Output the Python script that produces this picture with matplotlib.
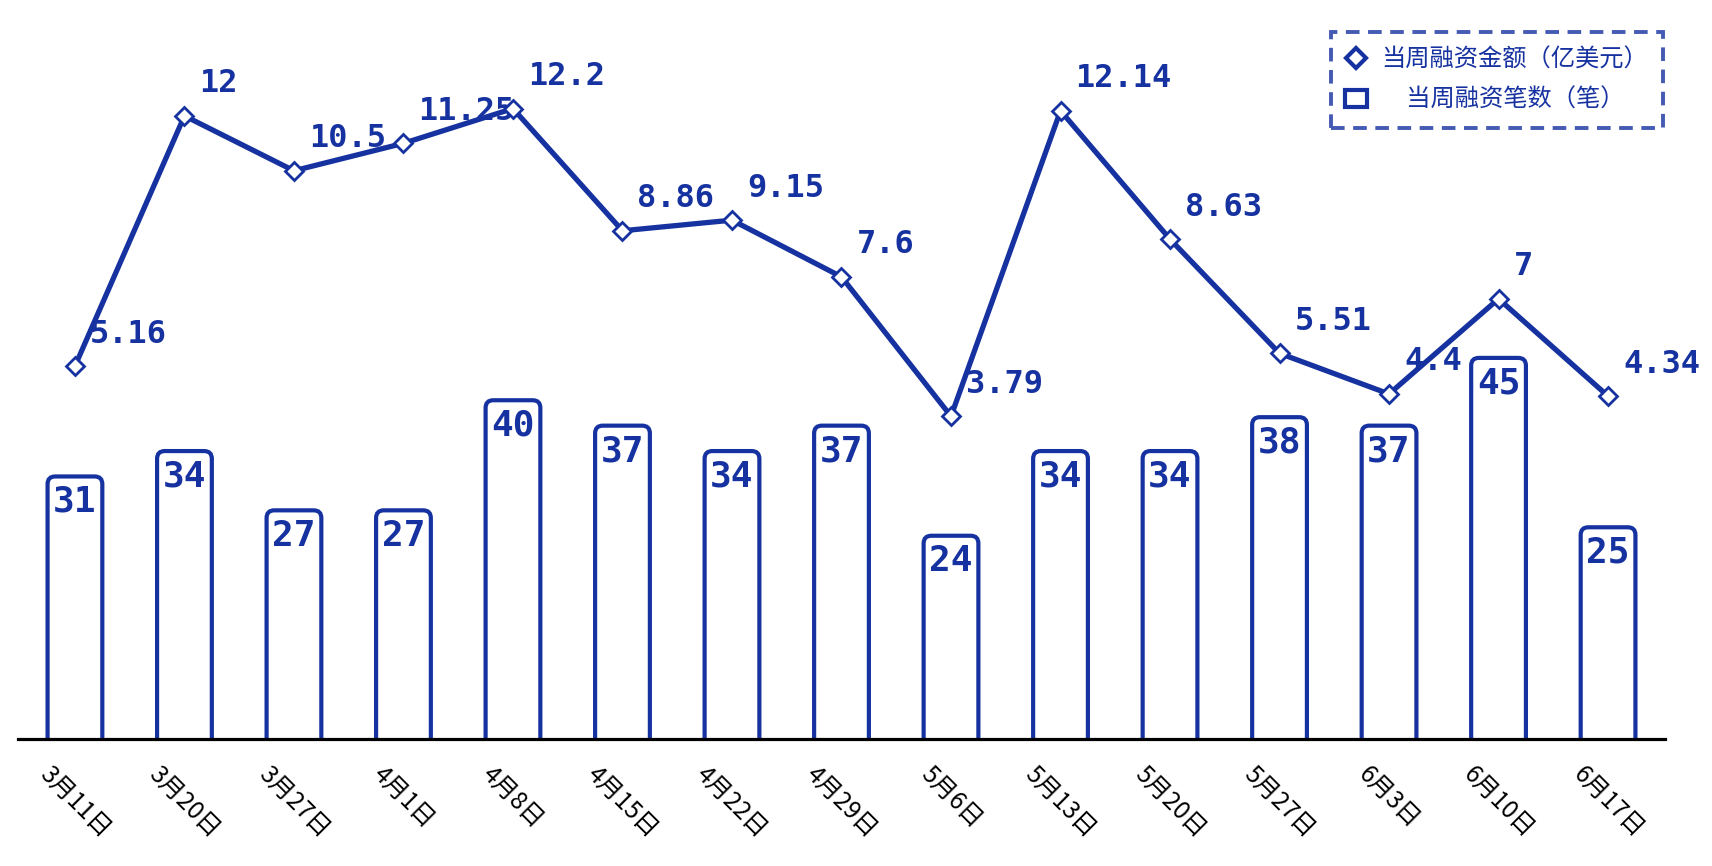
import numpy as np
import matplotlib
matplotlib.use("Agg")
import matplotlib.pyplot as plt
from matplotlib.patches import FancyBboxPatch, Patch
from matplotlib.lines import Line2D

dates = ["3月11日", "3月20日", "3月27日", "4月1日", "4月8日", "4月15日", "4月22日", "4月29日",
         "5月6日", "5月13日", "5月20日", "5月27日", "6月3日", "6月10日", "6月17日"]
amounts = [5.16, 12, 10.5, 11.25, 12.2, 8.86, 9.15, 7.6, 3.79, 12.14, 8.63, 5.51, 4.4, 7, 4.34]
deals = [31, 34, 27, 27, 40, 37, 34, 37, 24, 34, 34, 38, 37, 45, 25]
legend_labels = ["当周融资金额（亿美元）", "　当周融资笔数（笔）"]

blue = "#1632a0"
plt.rcParams['font.family'] = ['Noto Sans CJK SC', 'DejaVu Sans']

fig = plt.figure(figsize=(17.12, 8.66), dpi=100)
ax = fig.add_axes([18 / 1712, 127 / 866, 1647 / 1712, 719 / 866])
ax2 = ax.twinx()

x = np.arange(len(dates))
bar_w = 0.5

# rounded bars, started a bit below zero so the bottom corners get clipped square
for xi, n in zip(x, deals):
    box = FancyBboxPatch((xi - bar_w / 2, -3), bar_w, n + 3,
                         boxstyle="round,pad=0,rounding_size=0.07", mutation_aspect=12.9,
                         facecolor="white", edgecolor=blue, linewidth=3)
    ax.add_patch(box)
    ax.text(xi, n - 3, str(n), ha="center", va="center", fontsize=26,
            fontweight="bold", family="DejaVu Sans Mono", color=blue)

ax2.plot(x, amounts, color=blue, lw=3.8, marker="D", ms=9, mfc="white", mec=blue, mew=2, zorder=5)
for xi, v in zip(x, amounts):
    ax2.annotate(f"{v:g}", (xi, v), xytext=(15, 32), textcoords="offset pixels",
                 ha="left", va="center", fontsize=23, fontweight="bold",
                 family="DejaVu Sans Mono", color=blue, zorder=3)

ax.set_xlim(-0.52, 14.52)
ax.set_ylim(0, 84.9)
ax2.set_ylim(-5.03, 14.62)

ax.set_xticks(x)
ax.set_xticklabels(dates, rotation=-45, fontsize=17.5)
ax.tick_params(axis="x", length=0, pad=16)
ax.set_yticks([])
ax2.set_yticks([])
for s in ["top", "left", "right"]:
    ax.spines[s].set_visible(False)
for s in ax2.spines.values():
    s.set_visible(False)
ax.spines["bottom"].set_linewidth(2.3)
ax.spines["bottom"].set_color("black")

handles = [Line2D([], [], color="none", marker="D", mfc="white", mec=blue, mew=3, ms=10),
           Patch(facecolor="white", edgecolor=blue, linewidth=3)]
leg = ax2.legend(handles, legend_labels, loc="upper right",
                 bbox_to_anchor=(1663 / 1712, 1 - 32 / 866), bbox_transform=fig.transFigure,
                 borderaxespad=0, fancybox=False, fontsize=17.5, labelcolor=blue,
                 handlelength=0.9, handletextpad=0.6, borderpad=0.6, labelspacing=0.6)
frame = leg.get_frame()
frame.set_edgecolor(blue)
frame.set_linewidth(2.8)
frame.set_linestyle((0, (3.5, 2.2)))

fig.savefig("out.png", dpi=100)
